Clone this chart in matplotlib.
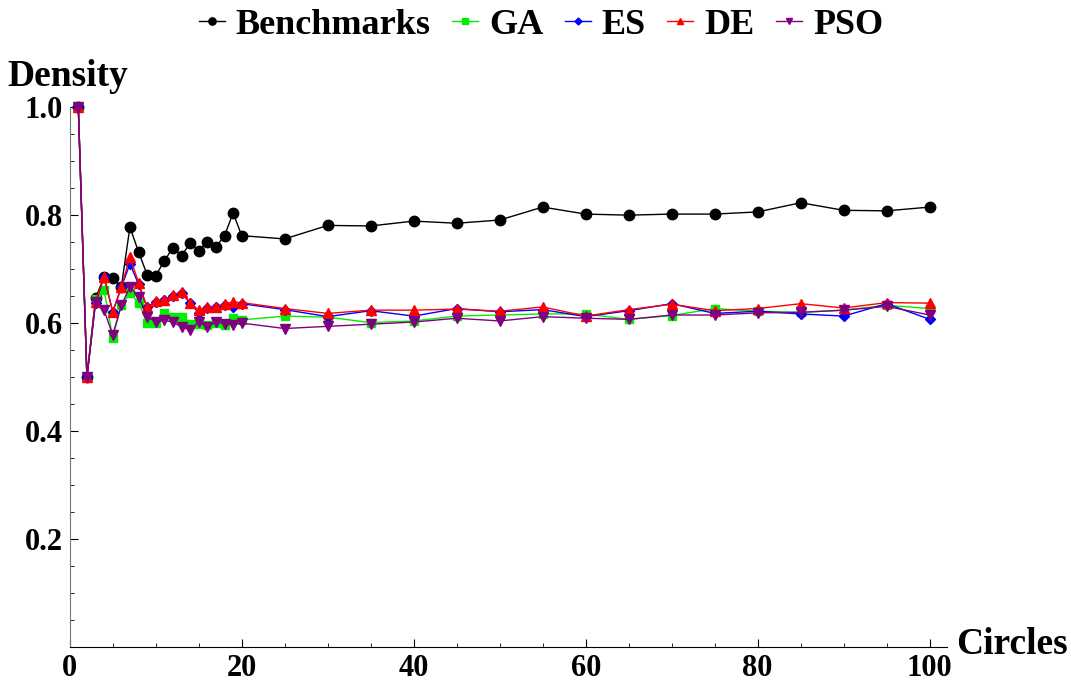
import matplotlib
matplotlib.use("Agg")
import matplotlib.pyplot as plt
from matplotlib.ticker import MultipleLocator

circles = [1, 2, 3, 4, 5, 6, 7, 8, 9, 10, 11, 12, 13, 14, 15, 16, 17, 18, 19, 20,
           25, 30, 35, 40, 45, 50, 55, 60, 65, 70, 75, 80, 85, 90, 95, 100]

benchmarks = [1.0, 0.5, 0.646, 0.686, 0.683, 0.667, 0.778, 0.732, 0.690, 0.688,
              0.715, 0.740, 0.725, 0.748, 0.734, 0.751, 0.741, 0.762, 0.804, 0.762,
              0.756, 0.781, 0.780, 0.789, 0.785, 0.791, 0.815, 0.802, 0.800, 0.802,
              0.802, 0.806, 0.823, 0.809, 0.808, 0.815]

ga = [1.0, 0.5, 0.645, 0.661, 0.573, 0.633, 0.655, 0.638, 0.601, 0.600,
      0.618, 0.612, 0.611, 0.599, 0.599, 0.596, 0.600, 0.597, 0.609, 0.606,
      0.613, 0.611, 0.601, 0.604, 0.613, 0.615, 0.617, 0.617, 0.607, 0.614,
      0.627, 0.622, 0.620, 0.624, 0.633, 0.627]

es = [1.0, 0.5, 0.637, 0.686, 0.621, 0.666, 0.710, 0.672, 0.629, 0.640,
      0.642, 0.651, 0.656, 0.637, 0.619, 0.628, 0.629, 0.634, 0.630, 0.636,
      0.625, 0.612, 0.623, 0.613, 0.627, 0.621, 0.625, 0.612, 0.623, 0.636,
      0.618, 0.622, 0.617, 0.613, 0.636, 0.607]

de = [1.0, 0.5, 0.640, 0.686, 0.621, 0.666, 0.723, 0.675, 0.629, 0.641,
      0.643, 0.652, 0.658, 0.638, 0.624, 0.630, 0.630, 0.636, 0.639, 0.638,
      0.627, 0.618, 0.624, 0.624, 0.626, 0.622, 0.630, 0.613, 0.625, 0.635,
      0.623, 0.627, 0.636, 0.628, 0.638, 0.637]

pso = [1.0, 0.5, 0.640, 0.624, 0.578, 0.633, 0.667, 0.649, 0.612, 0.602,
       0.605, 0.602, 0.593, 0.587, 0.602, 0.593, 0.602, 0.599, 0.597, 0.600,
       0.590, 0.594, 0.598, 0.602, 0.609, 0.604, 0.612, 0.609, 0.607, 0.615,
       0.615, 0.619, 0.620, 0.624, 0.631, 0.615]

series_names = ["Benchmarks", "GA", "ES", "DE", "PSO"]
x_ticks = [0, 20, 40, 60, 80, 100]
y_ticks = [0.2, 0.4, 0.6, 0.8, 1.0]

plt.rcParams['font.family'] = ['Liberation Serif', 'DejaVu Serif']
plt.rcParams['font.weight'] = 'bold'

fig = plt.figure(figsize=(10.71, 6.85), dpi=100)
ax = fig.add_axes([0.0651, 0.0555, 0.819, 0.788])

styles = [
    dict(color="black", marker="o", markersize=7.5, lw=1.0),
    dict(color="#00ee00", marker="s", markersize=5.5, lw=1.0),
    dict(color="#0000ff", marker="D", markersize=5, lw=1.0),
    dict(color="#ff0000", marker="^", markersize=6.5, lw=1.0),
    dict(color="#800080", marker="v", markersize=6.5, lw=1.0),
]
data = [benchmarks, ga, es, de, pso]
for name, vals, st in zip(series_names, data, styles):
    ax.plot(circles, vals, label=name, clip_on=False, **st)

ax.set_xlim(0, 102)
ax.set_ylim(0, 1.0)
ax.set_xticks(x_ticks)
ax.set_yticks(y_ticks)
ax.set_xticklabels([str(t) for t in x_ticks])
ax.set_yticklabels([f"{t:.1f}" for t in y_ticks])
ax.xaxis.set_minor_locator(MultipleLocator(5))
ax.yaxis.set_minor_locator(MultipleLocator(0.05))
ax.tick_params(which='major', direction='in', length=6, width=0.8, labelsize=22, pad=5)
ax.tick_params(which='minor', direction='in', length=3, width=0.6)
for lab in ax.get_xticklabels() + ax.get_yticklabels():
    lab.set_fontweight('bold')

for s in ['top', 'right']:
    ax.spines[s].set_visible(False)
ax.spines['left'].set_color('#777777')
ax.spines['bottom'].set_color('black')

fig.text(68 / 1071, 1 - 77 / 685, "Density", ha='center', va='center',
         fontsize=27, fontweight='bold')
fig.text(1012 / 1071, 1 - 645 / 685, "Circles", ha='center', va='center',
         fontsize=27, fontweight='bold')

fig.legend(loc='upper center', bbox_to_anchor=(0.505, 1.035), ncol=5, frameon=False,
           prop=dict(size=26, weight='bold'), handlelength=0.72, handletextpad=0.3,
           columnspacing=0.6, markerscale=0.7)

fig.savefig("out.png", dpi=100)
